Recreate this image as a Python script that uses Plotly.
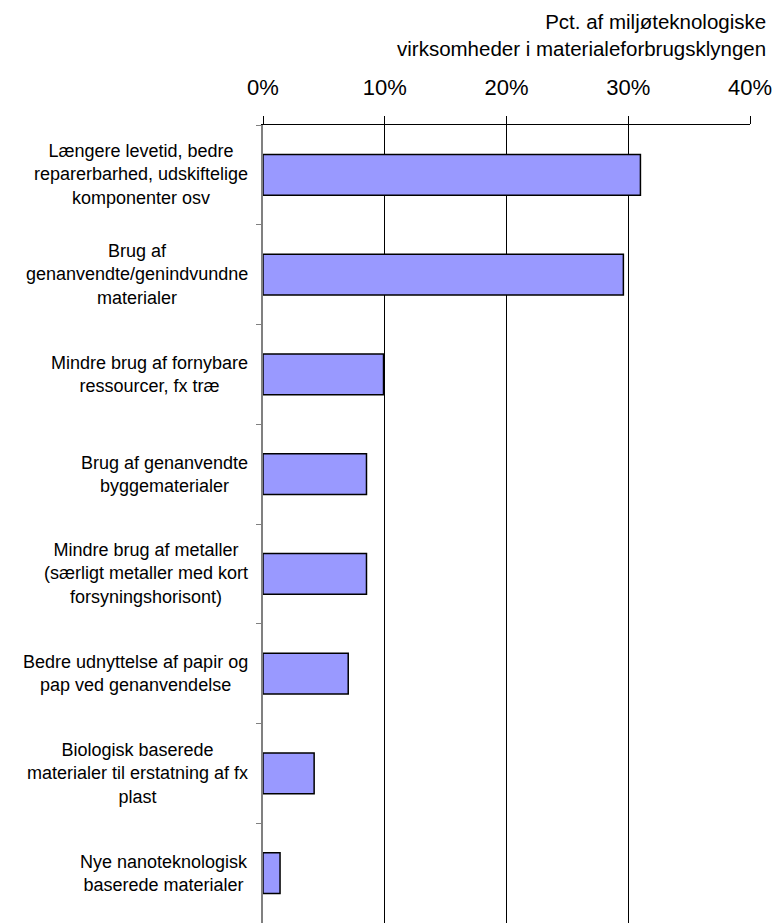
import plotly.graph_objects as go

categories = [
    "Længere levetid, bedre<br>reparerbarhed, udskiftelige<br>komponenter osv",
    "Brug af<br>genanvendte/genindvundne<br>materialer",
    "Mindre brug af fornybare<br>ressourcer, fx træ",
    "Brug af genanvendte<br>byggematerialer",
    "Mindre brug af metaller<br>(særligt metaller med kort<br>forsyningshorisont)",
    "Bedre udnyttelse af papir og<br>pap ved genanvendelse",
    "Biologisk baserede<br>materialer til erstatning af fx<br>plast",
    "Nye nanoteknologisk<br>baserede materialer",
]
values = [31.0, 29.6, 9.9, 8.5, 8.5, 7.0, 4.2, 1.4]
tick_vals = [0, 10, 20, 30, 40]
tick_text = ["0%", "10%", "20%", "30%", "40%"]
axis_title = "Pct. af miljøteknologiske<br>virksomheder i materialeforbrugsklyngen"

FONT = "Arial, Liberation Sans, sans-serif"

fig = go.Figure(
    go.Bar(
        x=values,
        y=categories,
        orientation="h",
        marker=dict(color="#9999FF", line=dict(color="black", width=1.5)),
        width=0.41,
        hoverinfo="x+y",
    )
)

annotations = []
for c in categories:
    annotations.append(dict(
        x=0, xref="paper", y=c, yref="y",
        text=c, showarrow=False, xanchor="right", yanchor="middle",
        align="center", xshift=-13,
        font=dict(family=FONT, size=18, color="black"),
    ))
annotations.append(dict(
    x=1.036, xref="paper", y=1.1134, yref="paper",
    text=axis_title, showarrow=False, xanchor="right", yanchor="middle",
    align="right", font=dict(family=FONT, size=20.5, color="black"),
))

fig.update_layout(
    width=778, height=923,
    margin=dict(l=263, r=28, t=125, b=0),
    paper_bgcolor="white", plot_bgcolor="white",
    showlegend=False,
    font=dict(family=FONT, color="black"),
    annotations=annotations,
    xaxis=dict(
        side="top", range=[0, 40],
        tickvals=tick_vals, ticktext=tick_text,
        tickfont=dict(family=FONT, size=22, color="black"),
        showgrid=True, gridcolor="black", gridwidth=1,
        zeroline=False,
        showline=True, linecolor="black", linewidth=1,
        ticks="outside", ticklen=8, tickcolor="black", tickwidth=1,
        ticklabelstandoff=12,
        fixedrange=True,
    ),
    yaxis=dict(
        autorange="reversed",
        showticklabels=False,
        showgrid=False, zeroline=False,
        showline=True, linecolor="#808080", linewidth=1.5,
        ticks="outside", tickson="boundaries", ticklen=5,
        tickcolor="#808080", tickwidth=1,
        fixedrange=True,
    ),
)

fig.write_html(
    "out.html",
    config={"displayModeBar": False},
    post_script="document.body.style.margin='0';document.body.style.overflow='hidden';",
)
